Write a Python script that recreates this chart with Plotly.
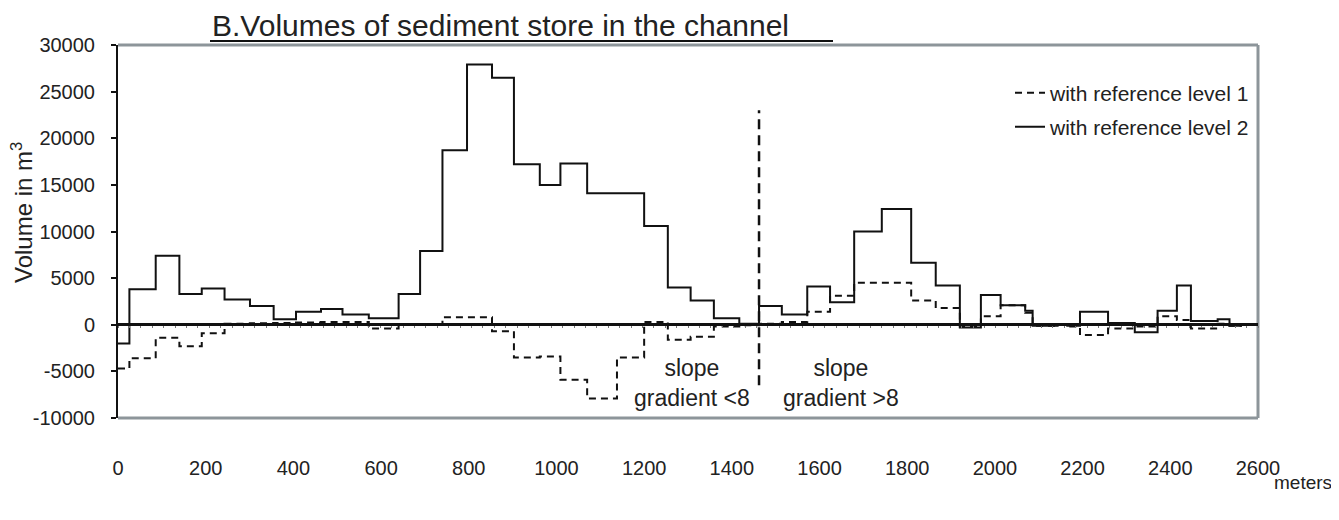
import plotly.graph_objects as go

# Distance along channel (m): boundaries of the measured reaches
bounds = [0, 26, 86, 140, 191, 243, 301, 355, 406, 463,
          512, 572, 640, 689, 740, 796, 853, 903, 962, 1009,
          1070, 1138, 1200, 1254, 1306, 1359, 1417, 1462, 1514, 1572,
          1624, 1679, 1742, 1809, 1865, 1920, 1968, 2013, 2069, 2086,
          2143, 2165, 2194, 2258, 2319, 2371, 2415, 2447, 2508, 2535,
          2561, 2600]

# Volume (m3) per reach, reference level 2 (solid)
vol_ref2 = [-2000, 3800, 7400, 3300, 3900, 2700, 2000, 600, 1400, 1700,
            1100, 700, 3300, 7900, 18700, 27900, 26500, 17200, 15000, 17300,
            14100, 14100, 10600, 4000, 2600, 700, 100, 2000, 1100, 4100,
            2400, 10000, 12400, 6650, 4200, -300, 3200, 2100, 1500, -100,
            50, -100, 1400, 200, -800, 1500, 4200, 400, 600, -100,
            0]

# Volume (m3) per reach, reference level 1 (dashed)
vol_ref1 = [-4700, -3600, -1400, -2300, -900, 100, 150, 200, 250, 300,
            300, -400, 50, 0, 800, 800, -700, -3500, -3400, -5900,
            -7900, -3500, 300, -1600, -1300, -200, -50, 100, 300, 1400,
            3100, 4500, 4500, 2600, 1800, -200, 900, 2100, 1300, -100,
            0, -200, -1100, -400, -200, 900, 500, -400, 100, -100,
            0]

x_ticks = [0, 200, 400, 600, 800, 1000, 1200, 1400, 1600, 1800, 2000, 2200, 2400, 2600]
y_ticks = [-10000, -5000, 0, 5000, 10000, 15000, 20000, 25000, 30000]
y_ticktext = ["-10000", "-5000", "0", "5000", "10000", "15000", "20000", "25000", "30000"]

divider_x = 1462
divider_y = [-6500, 23000]

FONT = "Liberation Sans, Arial, sans-serif"
TXT = "#222222"
FRAME = "#8d959a"

# page body has an 8px margin on every side; lay out in screen pixels
OFF = 8
W, H = 1339 - 2 * OFF, 520 - 2 * OFF
L = 118 - OFF
T = 45 - OFF
R = W - (1258 - OFF)
B = H - (418 - OFF)
pw = W - L - R
ph = H - T - B

def px_x(px):
    return (px - OFF - L) / pw

def px_y(py):
    return 1 - (py - OFF - T) / ph

fig = go.Figure()
fig.add_trace(go.Scatter(
    x=bounds, y=vol_ref1 + [vol_ref1[-1]], mode="lines", line_shape="hv",
    line=dict(color="#111111", width=2, dash="7px,5px"),
    name="with reference level 1", legend="legend"))
fig.add_trace(go.Scatter(
    x=bounds, y=vol_ref2 + [vol_ref2[-1]], mode="lines", line_shape="hv",
    line=dict(color="#111111", width=2),
    name="with reference level 2", legend="legend2"))
fig.add_trace(go.Scatter(
    x=[divider_x, divider_x], y=divider_y, mode="lines", xaxis="x2",
    line=dict(color="#111111", width=2.5, dash="10px,6px"),
    showlegend=False, hoverinfo="skip"))

leg_common = dict(xanchor="left", yanchor="middle", bgcolor="rgba(0,0,0,0)",
                  font=dict(size=21, color=TXT), borderwidth=0)

zero_pos = (0 - (-10000)) / (30000 - (-10000))

fig.update_layout(
    width=W, height=H,
    margin=dict(l=L, r=R, t=T, b=B, pad=0),
    paper_bgcolor="white", plot_bgcolor="white",
    font=dict(family=FONT, color=TXT, size=20),
    showlegend=True,
    legend=dict(x=px_x(1010), y=px_y(93), **leg_common),
    legend2=dict(x=px_x(1010), y=px_y(127), **leg_common),
    xaxis=dict(range=[0, 2600], tickvals=x_ticks, ticks="", showgrid=False,
               showline=False, zeroline=False, ticklabelstandoff=36,
               tickfont=dict(size=20, color=TXT)),
    xaxis2=dict(range=[0, 2600], overlaying="x", anchor="free", position=zero_pos,
                showticklabels=False, showline=False, showgrid=False, zeroline=False,
                ticks="outside", ticklen=2, tickwidth=1, tickcolor="#777777",
                tick0=0, dtick=26),
    yaxis=dict(range=[-10000, 30000], tickvals=y_ticks, ticktext=y_ticktext,
               ticks="outside", ticklen=5, tickwidth=2, tickcolor="#111111",
               ticklabelstandoff=12,
               showline=True, linecolor="#111111", linewidth=2,
               showgrid=False, zeroline=True, zerolinecolor="#111111",
               zerolinewidth=2.5, tickfont=dict(size=20, color=TXT)),
)

# Gray frame (top, right, bottom)
for x0, y0, x1, y1 in [(0, 1, 1, 1), (1, 0, 1, 1), (0, 0, 1, 0)]:
    fig.add_shape(type="line", xref="paper", yref="paper",
                  x0=x0, y0=y0, x1=x1, y1=y1,
                  line=dict(color=FRAME, width=3), layer="below")

# Title with underline
fig.add_annotation(text="B.Volumes of sediment store in the channel",
                   xref="paper", yref="paper", x=px_x(210), y=px_y(26),
                   xanchor="left", yanchor="middle", showarrow=False,
                   font=dict(size=30, color=TXT))
fig.add_shape(type="line", xref="paper", yref="paper",
              x0=px_x(210), x1=px_x(833), y0=px_y(41), y1=px_y(41),
              line=dict(color="#111111", width=2))

# Axis titles
fig.add_annotation(text="Volume in m<sup>3</sup>", xref="paper", yref="paper",
                   x=px_x(22), y=px_y(213), textangle=-90, showarrow=False,
                   xanchor="center", yanchor="middle", font=dict(size=24, color=TXT))
fig.add_annotation(text="meters", xref="paper", yref="paper",
                   x=px_x(1303), y=px_y(483), showarrow=False,
                   xanchor="center", yanchor="middle", font=dict(size=19, color=TXT))

# Slope annotations
for xm, txt in [(1308, "slope<br>gradient <8"), (1649, "slope<br>gradient >8")]:
    fig.add_annotation(text=txt, x=xm, y=-6250, xref="x", yref="y",
                       showarrow=False, align="center",
                       font=dict(size=23, color=TXT))

fig.write_html("out.html")
